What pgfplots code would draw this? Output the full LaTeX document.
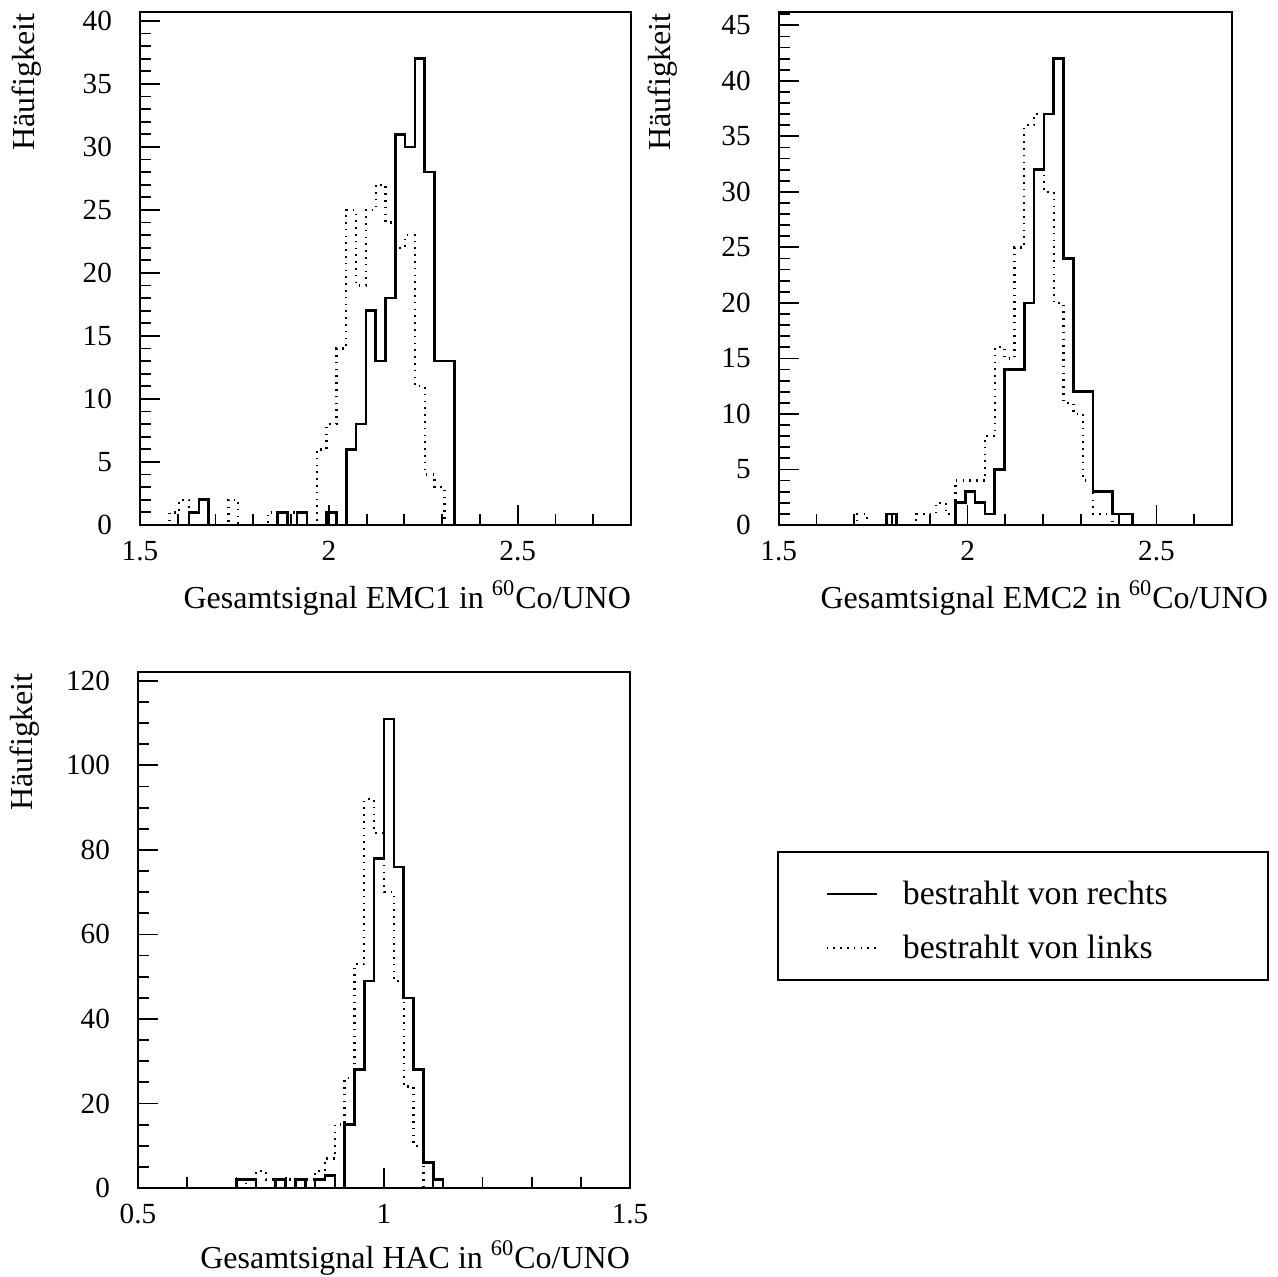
\documentclass[border=0pt]{standalone}
\usepackage{pgfplots}
\pgfplotsset{compat=1.18}
\usepackage{fontspec}
\setmainfont{Liberation Serif}

% common look of the three histogram frames
\pgfplotsset{
  histo/.style={
    scale only axis,
    anchor=south west,
    axis line style={line width=1pt},
    tick style={line width=0.9pt, black},
    major tick length=10pt,
    minor tick length=5.5pt,
    tick align=inside,
    xtick pos=bottom, ytick pos=left,
    ymin=0,
    /pgf/number format/assume math mode=true,
    tick label style={font=\fontsize{14.6}{16}\selectfont},
    label style={font=\fontsize{16}{19}\selectfont},
    yticklabel style={xshift=-10.5pt},
    xticklabel style={yshift=-4.5pt},
    ylabel={Häufigkeit},
    ylabel style={anchor=east},
    xlabel style={at={(axis description cs:1,0)}, anchor=east, xshift=3.5pt, yshift=-36.5pt},
  },
  vonrechts/.style={black, line width=1.3pt},
  vonlinks/.style={black, line width=1.15pt, dash pattern=on 0.8pt off 2.6pt},
}

\begin{document}
\begin{tikzpicture}
\useasboundingbox (0,0) rectangle (639pt,638.5pt);

% EMC1
\begin{axis}[histo, at={(70pt,376pt)}, width=245.5pt, height=256.5pt,
  xmin=1.5, xmax=2.8, ymax=40.7,
  xtick={1.5,2,2.5}, minor xtick={1.6,1.7,1.8,1.9,2.1,2.2,2.3,2.4,2.6,2.7},
  ytick={0,5,...,40}, minor ytick={0,1,...,40},
  xlabel={Gesamtsignal EMC1 in \textsuperscript{60}Co/UNO},
  ylabel style={at={(axis description cs:-0.23,1.010)}}]
\addplot[vonrechts, const plot] coordinates {
  (1.604,0) (1.630,1) (1.656,2) (1.682,0) (1.864,1) (1.890,0) (1.916,1) (1.942,0)
  (1.994,1) (2.020,0) (2.046,6) (2.072,8) (2.098,17) (2.124,13) (2.150,18)
  (2.176,31) (2.202,30) (2.228,37) (2.254,28) (2.280,13) (2.306,13) (2.332,0)};
\addplot[vonlinks, const plot] coordinates {
  (1.552,0) (1.578,1) (1.604,2) (1.630,0) (1.734,2) (1.760,0) (1.838,1) (1.864,0)
  (1.890,1) (1.916,0) (1.968,6) (1.994,8) (2.020,14) (2.046,25) (2.072,19)
  (2.098,25) (2.124,27) (2.150,24) (2.176,22) (2.202,23) (2.228,11) (2.254,4)
  (2.280,3) (2.306,0)};
\end{axis}

% EMC2
\begin{axis}[histo, at={(389.35pt,376pt)}, width=226.65pt, height=256.5pt,
  xmin=1.5, xmax=2.7, ymax=46.2,
  xtick={1.5,2,2.5}, minor xtick={1.6,1.7,1.8,1.9,2.1,2.2,2.3,2.4,2.6},
  ytick={0,5,...,45}, minor ytick={0,1,...,46},
  xlabel={Gesamtsignal EMC2 in \textsuperscript{60}Co/UNO},
  xlabel style={at={(axis description cs:1.0794,0)}},
  ylabel style={at={(axis description cs:-0.255,1.010)}}]
\addplot[vonrechts, const plot] coordinates {
  (1.760,0) (1.786,1) (1.812,0) (1.968,2) (1.994,3) (2.020,2) (2.046,1) (2.072,5)
  (2.098,14) (2.124,14) (2.150,20) (2.176,32) (2.202,37) (2.228,42) (2.254,24)
  (2.280,12) (2.306,12) (2.332,3) (2.358,3) (2.384,1) (2.410,1) (2.436,0)};
\addplot[vonlinks, const plot] coordinates {
  (1.682,0) (1.708,1) (1.734,0) (1.864,1) (1.890,1) (1.916,2) (1.942,1) (1.968,4)
  (1.994,4) (2.020,4) (2.046,8) (2.072,16) (2.098,15) (2.124,25) (2.150,36)
  (2.176,37) (2.202,30) (2.228,20) (2.254,11) (2.280,10) (2.306,4) (2.332,1)
  (2.358,1) (2.384,0)};
\end{axis}

% HAC, carries the legend
\begin{axis}[histo, at={(69pt,44.5pt)}, width=246pt, height=258pt,
  xmin=0.5, xmax=1.5, ymax=122.1, clip=false,
  xtick={0.5,1,1.5}, minor xtick={0.6,0.7,0.8,0.9,1.1,1.2,1.3,1.4},
  ytick={0,20,...,120}, minor ytick={0,5,...,120},
  xlabel={Gesamtsignal HAC in \textsuperscript{60}Co/UNO},
  xlabel style={yshift=1.5pt},
  ylabel style={at={(axis description cs:-0.23,1.010)}},
  legend image code/.code={\draw[#1] (0pt,0pt) -- (25pt,0pt);},
  legend cell align=left,
  legend style={at={(axis description cs:1.384,0.612)}, anchor=north west,
    draw=none, fill=none, row sep=10pt, column sep=10.5pt,
    font=\fontsize{16.9}{19}\selectfont}]
\addplot[vonrechts, const plot] coordinates {
  (0.68,0) (0.70,2) (0.72,2) (0.74,0) (0.78,2) (0.80,0) (0.82,2) (0.84,0)
  (0.86,2) (0.88,3) (0.90,0) (0.92,15) (0.94,28) (0.96,49) (0.98,78) (1.00,111)
  (1.02,76) (1.04,45) (1.06,28) (1.08,6) (1.10,2) (1.12,0)};
\addlegendentry{bestrahlt von rechts}
\addplot[vonlinks, const plot] coordinates {
  (0.70,0) (0.72,2) (0.74,4) (0.76,2) (0.78,0) (0.80,2) (0.82,0) (0.84,2)
  (0.86,4) (0.88,7) (0.90,15) (0.92,26) (0.94,53) (0.96,92) (0.98,84) (1.00,70)
  (1.02,49) (1.04,24) (1.06,10) (1.08,0)};
\addlegendentry{bestrahlt von links}
\draw[line width=1pt] (axis description cs:1.3008,0.6512) rectangle (axis description cs:2.2967,0.4031);
\end{axis}
\end{tikzpicture}
\end{document}
